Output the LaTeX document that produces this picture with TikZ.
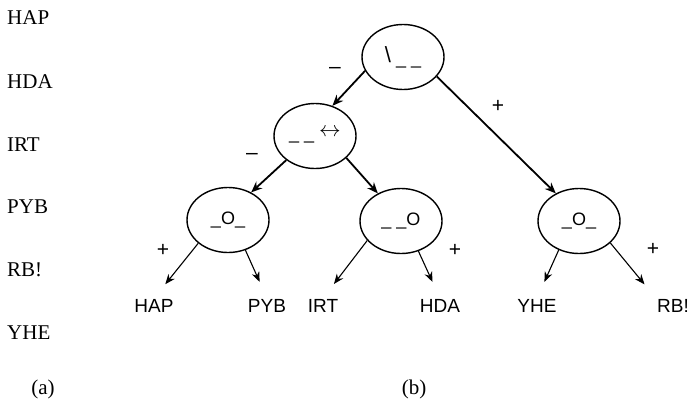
\documentclass[tikz,border=0pt]{standalone}
\usepackage{fontspec}
\setmainfont{Liberation Serif}
\newfontfamily\helv{Liberation Sans}
\usetikzlibrary{arrows.meta, shapes.geometric}

\begin{document}
\begin{tikzpicture}[x=1pt,y=-1pt,
  state/.style={draw, ellipse, line width=1.4pt, minimum width=82pt, minimum height=65pt, inner sep=0pt, font=\helv\fontsize{18}{18}\selectfont},
  leaf/.style={font=\helv\fontsize{19}{19}\selectfont, inner sep=1pt},
  row/.style={anchor=base west, font=\fontsize{21}{21}\selectfont, inner sep=0pt},
  sign/.style={font=\helv\fontsize{21}{21}\selectfont, inner sep=0pt},
  edge/.style={-{Stealth[length=11pt,width=9pt]}, line width=1.8pt},
  leafedge/.style={-{Stealth[length=10pt,width=8pt]}, line width=1.1pt, shorten >=18pt}]
\useasboundingbox (0,0) rectangle (692,404);
% (a)
\node[row] (r1) at (7,25) {HAP};
\node[row] (r2) at (7,88) {HDA};
\node[row] (r3) at (7,151) {IRT};
\node[row] (r4) at (7,213) {PYB};
\node[row] (r5) at (7,276) {RB!};
\node[row] (r6) at (7,339) {YHE};
\node[font=\fontsize{21}{21}\selectfont, anchor=base] (capa) at (43,394) {(a)};
% (b)
\node[state] (root) at (403,57) {\raisebox{2pt}{\fontsize{22}{22}\selectfont\textbackslash}\ \_ \_};
\node[state] (mid) at (315,136) {\_ \_ \raisebox{3pt}{\scalebox{1.25}{$\leftrightarrow$}}};
\node[state] (bl) at (228,220) {\_O\_};
\node[state] (bm) at (401,221) {\_ \_O};
\node[state] (br) at (579,221) {\_O\_};
\node[leaf] (hap) at (154,306) {HAP};
\node[leaf] (pyb) at (267,306) {PYB};
\node[leaf] (irt) at (323,306) {IRT};
\node[leaf] (hda) at (440,306) {HDA};
\node[leaf] (yhe) at (537,306) {YHE};
\node[leaf] (rb) at (673,306) {RB!};
\node[font=\fontsize{21}{21}\selectfont, anchor=base] (capb) at (414,394) {(b)};
\draw[edge] (root.200) -- (mid.60);
\draw[edge] (root.-30) -- (br.130);
\draw[edge] (mid.220) -- (bl.50);
\draw[edge] (mid.-35) -- (bm.130);
\draw[leafedge] (bl.218) -- (hap.north);
\draw[leafedge] (bl.-60) -- (pyb.north);
\draw[leafedge] (bm.210) -- (irt.north);
\draw[leafedge] (bm.-60) -- (hda.north);
\draw[leafedge] (br.235) -- (yhe.north);
\draw[leafedge] (br.-35) -- (rb.north west);
\node[sign] (m1) at (335,70) {\textendash};
\node[sign] (p1) at (498,106) {+};
\node[sign] (m2) at (252,156) {\textendash};
\node[sign] (p2) at (163,250) {+};
\node[sign] (p3) at (455,250) {+};
\node[sign] (p4) at (653,249) {+};
\end{tikzpicture}
\end{document}
